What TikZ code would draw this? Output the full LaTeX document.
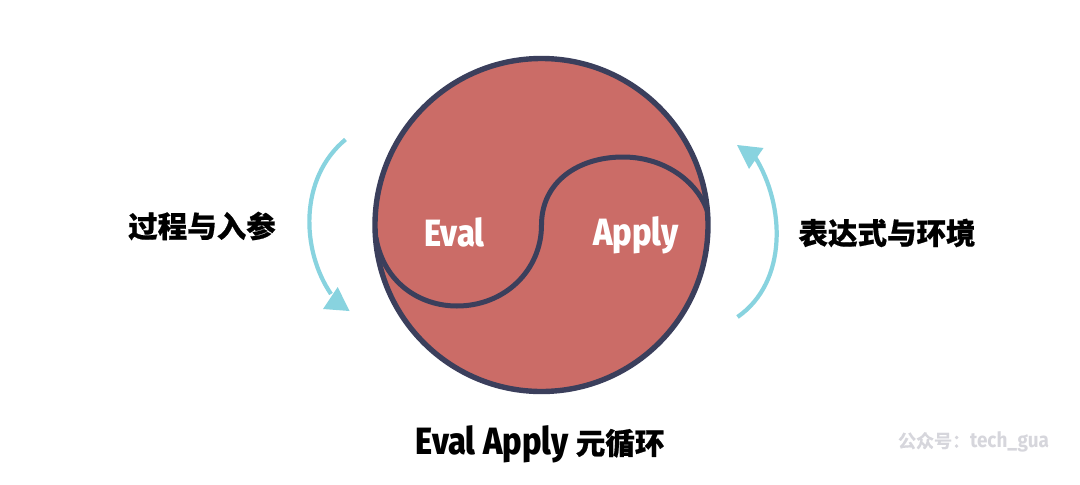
\documentclass[tikz,border=0pt]{standalone}
\usepackage{fontspec}
\newfontfamily\cjkblack[FakeBold=0.6]{Noto Sans CJK SC Black}
\newfontfamily\latinbold[FakeStretch=0.86]{Fira Sans ExtraBold}
\newfontfamily\wmfont[FakeBold=0.4]{Noto Sans CJK SC Bold}
\newfontfamily\wmlatin[FakeStretch=0.9]{Fira Sans Bold}
\definecolor{fillred}{HTML}{CB6C67}
\definecolor{navy}{HTML}{3B3F5C}
\definecolor{teal}{HTML}{88D3DF}
\definecolor{wm}{HTML}{D6D6DC}
\tikzset{
  ring/.style={draw=navy,line width=5.4pt},
  wave/.style={draw=navy,line width=5pt,line cap=round},
  sweep/.style={draw=teal,line width=4.2pt},
  tip/.style={fill=teal,draw=none},
  inner/.style={text=white,inner sep=0pt,font=\latinbold\fontsize{38}{38}\selectfont},
  label/.style={text=black,inner sep=0pt,font=\cjkblack\fontsize{29.5}{30}\selectfont},
}
\begin{document}
\begin{tikzpicture}[x=1pt,y=-1pt]
\useasboundingbox[fill=white] (0,0) rectangle (1080,485);
\coordinate (c) at (541.5,225);
\path[fill=fillred] (c) circle[radius=166.5pt];
\coordinate (w0) at (376,238);
\coordinate (w1) at (457,306);
\coordinate (w2) at (541.5,225);
\coordinate (w3) at (623,157);
\coordinate (w4) at (707,210);
\draw[wave] (w0) .. controls (384,283) and (420,306) .. (w1)
  .. controls (505,306) and (541.5,270) .. (w2)
  .. controls (541.5,182) and (578,157) .. (w3)
  .. controls (665,157) and (697,182) .. (w4);
\draw[ring] (c) circle[radius=166.5pt];
\node[inner] (eval) at (454.5,232) {Eval};
\node[inner] (apply) at (636,235) {Apply};
\coordinate (l0) at (345.5,139.5);
\coordinate (l1) at (331,294);
\draw[sweep] (l0) .. controls (299,178) and (301,250) .. (l1);
\coordinate (lt1) at (337.7,287);
\coordinate (lt2) at (323,309);
\coordinate (lt3) at (349.5,311);
\fill[tip] (lt1) -- (lt2) -- (lt3) -- cycle;
\coordinate (r0) at (737.5,317);
\coordinate (r1) at (755,157);
\draw[sweep] (r0) .. controls (788,282) and (785,205) .. (r1);
\coordinate (rt1) at (737,145);
\coordinate (rt2) at (763.5,148);
\coordinate (rt3) at (749,169);
\fill[tip] (rt1) -- (rt2) -- (rt3) -- cycle;
\node[label] (left) at (202,226) {过程与入参};
\node[label] (right) at (887,233) {表达式与环境};
\node[inner sep=0pt,text=black] (title) at (540,444) {\latinbold\fontsize{38}{38}\selectfont Eval Apply \cjkblack\fontsize{29.5}{30}\selectfont 元循环};
\node[inner sep=0pt,text=wm] (mark) at (973.5,442) {\wmfont\fontsize{18}{20}\selectfont 公众号：\wmlatin\fontsize{21}{20}\selectfont tech\_gua};
\end{tikzpicture}
\end{document}
